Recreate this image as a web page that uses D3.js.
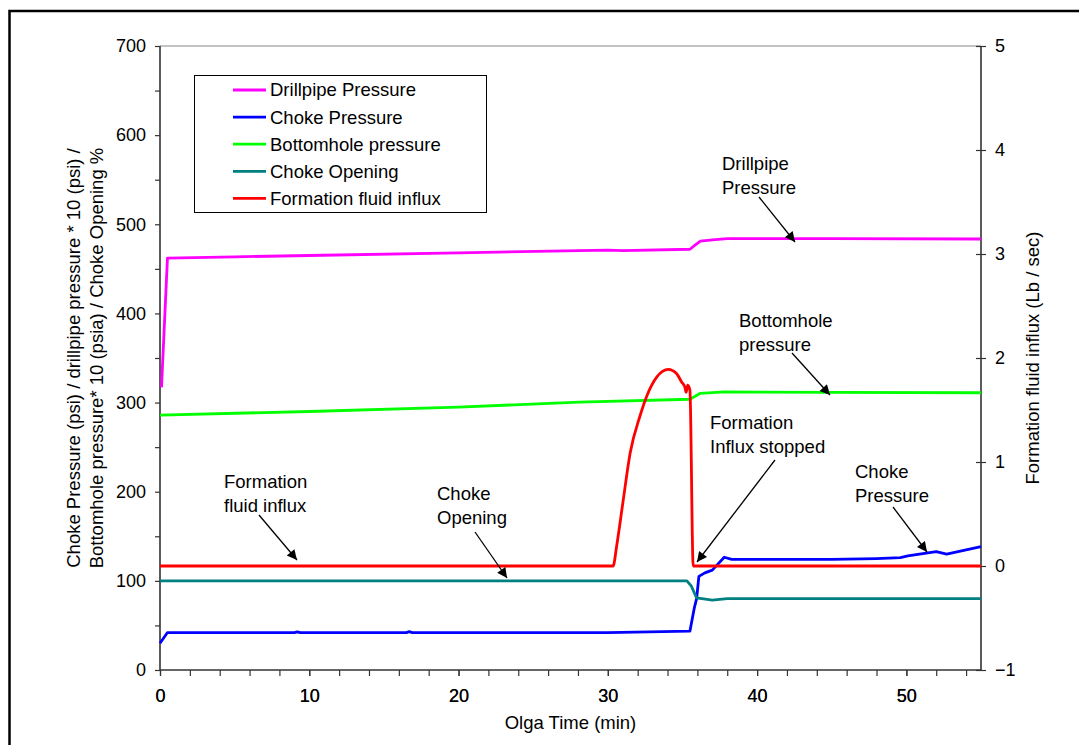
<!DOCTYPE html>
<html>
<head>
<meta charset="utf-8">
<script src="https://cdn.jsdelivr.net/npm/d3@7"></script>
<style>
  html, body { margin: 0; padding: 0; background: #fff; }
  svg { display: block; font-family: Arial, "Liberation Sans", sans-serif; }
</style>
</head>
<body>
<svg id="chart" width="1079" height="745"></svg>
<script>
// Well-control simulation: pressures, choke opening and formation influx vs time
const xTicks = [0, 10, 20, 30, 40, 50];
const leftTicks = [0, 100, 200, 300, 400, 500, 600, 700];
const rightTicks = [-1, 0, 1, 2, 3, 4, 5];

// [time (min), value]
const drillpipePressure = [
  [0.1, 317], [0.5, 462], [5, 463.5], [10, 465], [20, 468], [30, 471], [31, 470.5],
  [35.5, 472], [35.8, 476], [36.2, 481], [37, 482.5], [38, 484], [45, 484], [55, 483.5]
];
const chokePressure = [
  [0, 30], [0.5, 42], [9, 42], [9.2, 42.8], [9.4, 42], [16.5, 42], [16.7, 43], [16.9, 42],
  [30, 42], [35.5, 43.5], [35.8, 70], [35.95, 80], [36.1, 105], [36.5, 109], [37, 112],
  [37.8, 126.5], [38.3, 124], [40, 124], [45, 124], [48, 125], [49.6, 126], [50.1, 128],
  [52, 132.7], [52.7, 130], [55, 138.5]
];
const bottomholePressure = [
  [0, 286], [10, 290], [20, 295], [28.1, 300.4], [35.5, 303.7], [36.2, 310.4],
  [37.8, 312], [45, 311.5], [55, 311]
];
const chokeOpening = [
  [0, 100], [35.3, 100], [35.6, 94], [35.95, 80.8], [37, 78.5], [38, 80], [55, 80]
];
const formationInflux = [
  [0, 0], [30.35, 0], [30.6, 0.2], [31.0, 0.6], [31.5, 1.09], [32.15, 1.44], [32.6, 1.63],
  [33.3, 1.82], [34.05, 1.89], [34.6, 1.85], [34.94, 1.77], [35.16, 1.72], [35.25, 1.67],
  [35.35, 1.74], [35.5, 1.69], [35.72, 0], [55, 0]
];

const legendNames = ["Drillpipe Pressure", "Choke Pressure", "Bottomhole pressure", "Choke Opening", "Formation fluid influx"];
const colors = ["#ff00ff", "#0000ff", "#00ff00", "#008080", "#ff0000"];

const svg = d3.select("#chart");
const m = { left: 160, top: 46, right: 981, bottom: 670 };

const x = d3.scaleLinear().domain([0, 55]).range([m.left, m.right]);
const yL = d3.scaleLinear().domain([0, 700]).range([m.bottom, m.top]);
const yR = d3.scaleLinear().domain([-1, 5]).range([m.bottom, m.top]);

// outer frame
svg.append("rect").attr("x", 9.5).attr("y", 11).attr("width", 1200).attr("height", 900)
  .attr("fill", "none").attr("stroke", "#000").attr("stroke-width", 2.5);

// plot top edge
svg.append("line").attr("x1", m.left).attr("x2", m.right).attr("y1", m.top).attr("y2", m.top)
  .attr("stroke", "#888").attr("stroke-width", 1.2);

const axisColor = "#333";
const fs = 18.5;
const tfs = 18;

// left axis
const gL = svg.append("g").attr("transform", `translate(${m.left},0)`)
  .call(d3.axisLeft(yL).tickValues(d3.range(0, 701, 50)).tickSize(5)
    .tickFormat(d => leftTicks.includes(d) ? d : ""));
// bottom axis
const gB = svg.append("g").attr("transform", `translate(0,${m.bottom})`)
  .call(d3.axisBottom(x).tickValues(d3.range(0, 55, 2).concat(xTicks)).tickSize(6)
    .tickFormat(d => xTicks.includes(d) ? d : ""));
// right axis (ticks cross the line)
const gR = svg.append("g").attr("transform", `translate(${m.right},0)`)
  .call(d3.axisRight(yR).tickValues(rightTicks).tickSize(5).tickPadding(9)
    .tickFormat(d3.format("d")));
gR.selectAll(".tick line").attr("x1", -5);

[gL, gB, gR].forEach(g => {
  g.select(".domain").attr("stroke", axisColor).attr("stroke-width", 1.6);
  g.selectAll(".tick line").attr("stroke", axisColor).attr("stroke-width", 1.2);
  g.selectAll(".tick text").attr("font-size", tfs).attr("fill", "#000")
    .attr("font-family", "Arial, 'Liberation Sans', sans-serif");
});
gL.select(".domain").attr("d", `M0,${m.bottom}V${m.top}`);
gB.select(".domain").attr("d", `M${m.left},0H${m.right}`);
gR.select(".domain").attr("d", `M0,${m.bottom}V${m.top}`);
gL.selectAll(".tick text").attr("x", -14);
gB.selectAll(".tick text").attr("y", 19);

// series
const lineL = d3.line().x(d => x(d[0])).y(d => yL(d[1]));
const seriesL = [drillpipePressure, chokePressure, bottomholePressure, chokeOpening];
seriesL.forEach((s, i) => {
  svg.append("path").datum(s).attr("d", lineL).attr("fill", "none")
    .attr("stroke", colors[i]).attr("stroke-width", 2.8).attr("stroke-linejoin", "round");
});
svg.append("path").datum(formationInflux)
  .attr("d", d3.line().x(d => x(d[0])).y(d => yR(d[1])).curve(d3.curveMonotoneX))
  .attr("fill", "none").attr("stroke", colors[4]).attr("stroke-width", 2.8).attr("stroke-linejoin", "round");

// legend
const lg = svg.append("g");
lg.append("rect").attr("x", 194.5).attr("y", 75.5).attr("width", 292).attr("height", 137)
  .attr("fill", "#fff").attr("stroke", "#000").attr("stroke-width", 1);
legendNames.forEach((name, i) => {
  const cy = 90 + i * 27.1;
  lg.append("line").attr("x1", 233).attr("x2", 266).attr("y1", cy).attr("y2", cy)
    .attr("stroke", colors[i]).attr("stroke-width", 2.8);
  lg.append("text").attr("x", 270).attr("y", cy).attr("dy", "0.35em")
    .attr("font-size", fs).text(name);
});

// axis titles
svg.append("text").attr("x", 570.5).attr("y", 729).attr("text-anchor", "middle")
  .attr("font-size", fs).text("Olga Time (min)");
const yt = svg.append("text").attr("transform", `translate(80,${(m.top + m.bottom) / 2}) rotate(-90)`)
  .attr("text-anchor", "middle").attr("font-size", fs);
yt.append("tspan").attr("x", 0).attr("dy", 0).text("Choke Pressure (psi) / drillpipe pressure * 10 (psi) /");
yt.append("tspan").attr("x", 0).attr("dy", 23).text("Bottomhole pressure* 10 (psia) / Choke Opening %");
svg.append("text").attr("transform", `translate(1039,${(m.top + m.bottom) / 2}) rotate(-90)`)
  .attr("text-anchor", "middle").attr("font-size", fs).text("Formation fluid influx (Lb / sec)");

// annotations
svg.append("defs").append("marker").attr("id", "arrow").attr("viewBox", "0 0 10 10")
  .attr("refX", 10).attr("refY", 5).attr("markerWidth", 12).attr("markerHeight", 10)
  .attr("markerUnits", "userSpaceOnUse").attr("orient", "auto")
  .append("path").attr("d", "M0,0L10,5L0,10z").attr("fill", "#000");

const notes = [
  { lines: ["Drillpipe", "Pressure"], tx: 722, ty: 170, from: [759, 197], to: [795, 242] },
  { lines: ["Bottomhole", "pressure"], tx: 739, ty: 327, from: [792, 353], to: [830, 395] },
  { lines: ["Formation", "Influx stopped"], tx: 710, ty: 429, from: [775, 460], to: [697, 562] },
  { lines: ["Choke", "Pressure"], tx: 855, ty: 478, from: [893, 507], to: [927, 552] },
  { lines: ["Formation", "fluid influx"], tx: 224, ty: 488, from: [259, 515], to: [297, 560] },
  { lines: ["Choke", "Opening"], tx: 437, ty: 500, from: [475, 532], to: [507, 578] }
];
notes.forEach(n => {
  const t = svg.append("text").attr("font-size", fs);
  n.lines.forEach((s, i) => t.append("tspan").attr("x", n.tx).attr("y", n.ty + i * 23.5).text(s));
  svg.append("line").attr("x1", n.from[0]).attr("y1", n.from[1]).attr("x2", n.to[0]).attr("y2", n.to[1])
    .attr("stroke", "#000").attr("stroke-width", 1.3).attr("marker-end", "url(#arrow)");
});
</script>
</body>
</html>
